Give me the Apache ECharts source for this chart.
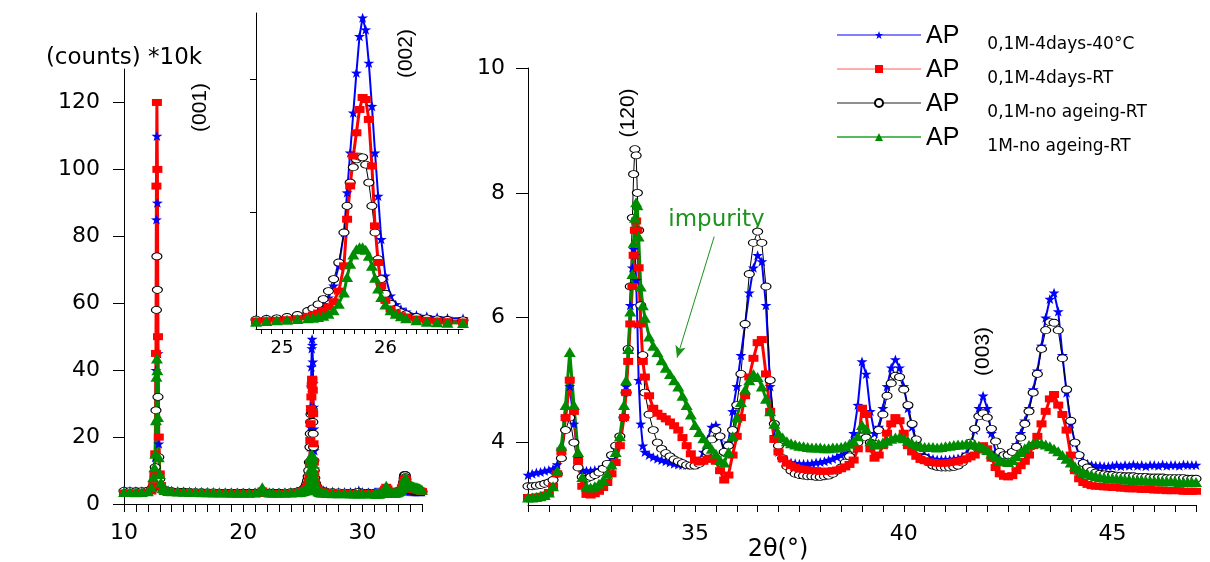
<!DOCTYPE html>
<html><head><meta charset="utf-8">
<script src="https://cdn.jsdelivr.net/npm/echarts@6/dist/echarts.min.js"></script>
<style>html,body{margin:0;padding:0;background:#fff}#c{width:1210px;height:562px}</style>
</head><body><div id="c"></div>
<script>
// ---------- legend / series names ----------
const legendSubs = ['0,1M-4days-40°C', '0,1M-4days-RT', '0,1M-no ageing-RT', '1M-no ageing-RT'];
const seriesNames = legendSubs.map(s => 'AP ' + s);

// ---------- tick values ----------
const leftXTicks = [10,11,12,13,14,15,16,17,18,19,20,21,22,23,24,25,26,27,28,29,30,31,32,33,34,35];
const leftXLabels = [10,20,30];
const leftYTicks = [0,20,40,60,80,100,120];
const insetXTicks = [24.8,24.9,25,25.1,25.2,25.3,25.4,25.5,25.6,25.7,25.8,25.9,26,26.1,26.2,26.3,26.4,26.5,26.6,26.7];
const insetXLabels = [25,26];
const insetYTicks = [20,40];
const rightXTicks = [31,31.5,32,32.5,33,33.5,34,34.5,35,35.5,36,36.5,37,37.5,38,38.5,39,39.5,40,40.5,41,41.5,42,42.5,43,43.5,44,44.5,45,45.5,46,46.5,47];
const rightXLabels = [35,40,45];
const rightYTicks = [4,6,8,10];

// ---------- 2theta values, 10-31 deg ----------
const leftX = [
 10,10.5,11,11.5,12,12.3,
 12.45,12.55,12.62,12.68,12.72,12.76,12.8,12.85,12.92,13.0,13.1,13.25,13.4,
 13.7,14,14.5,15,15.5,16,16.5,17,17.5,18,18.5,19,19.5,20,20.5,21,
 21.4,21.6,21.8,22.2,22.5,23,23.5,24,24.5,
 24.75,24.85,24.95,25.05,25.15,25.25,
 25.3,25.35,25.4,25.45,25.5,25.55,25.6,
 25.63,25.66,25.69,25.72,25.75,25.78,25.81,25.84,25.87,25.9,25.93,25.96,
 26.0,26.05,26.1,26.15,26.2,26.3,26.4,26.5,26.6,26.75,
 27,27.5,28,28.5,29,29.4,29.7,30,30.5
];
const blueLeft = [
 4.0,3.95,3.9,3.9,4.0,4.3,
 5.5,8,14,40,85,110,90,45,18,9,6,4.8,4.3,
 4.1,4.0,3.9,3.8,3.75,3.7,3.65,3.6,3.55,3.5,3.5,3.48,3.46,3.45,3.44,3.44,
 3.5,3.9,3.5,3.44,3.43,3.45,3.5,3.55,3.7,
 3.95,4.0,4.05,4.15,4.3,4.6,
 5.0,5.5,6.2,7.2,9.0,12,17,
 23,29,35,41,46.5,49.3,47.5,42.5,36,29,22.5,16,
 10.5,7.5,6.2,5.5,5.1,4.6,4.4,4.25,4.15,4.1,
 3.9,3.7,3.6,3.55,3.55,3.6,4.1,3.6,3.5
];
const redLeft = [
 3.3,3.3,3.3,3.35,3.5,3.9,
 5.5,8.5,15,45,95,120,100,50,20,9,5.5,4.2,3.8,
 3.6,3.5,3.4,3.35,3.3,3.25,3.22,3.2,3.18,3.15,3.15,3.12,3.12,3.1,3.1,3.1,
 3.2,3.9,3.3,3.1,3.1,3.12,3.15,3.2,3.4,
 3.7,3.75,3.8,3.9,4.05,4.4,
 4.6,4.9,5.3,5.8,6.6,8.2,12,
 19,24,28.5,32,35.5,37.3,37,34,27,18,12.5,9.0,
 6.8,5.5,4.9,4.5,4.3,4.0,3.8,3.7,3.6,3.55,
 3.4,3.3,3.2,3.15,3.12,3.1,3.15,3.1,3.1
];
const blackLeft = [
 3.9,3.85,3.8,3.85,3.95,4.3,
 5.2,7,11,28,58,74,64,32,14,7.5,5.2,4.4,4.0,
 3.85,3.8,3.7,3.65,3.6,3.55,3.5,3.48,3.45,3.42,3.4,3.4,3.38,3.37,3.36,3.35,
 3.4,3.7,3.4,3.35,3.35,3.37,3.42,3.5,3.7,
 3.9,4.0,4.1,4.3,4.6,5.2,
 5.6,6.2,7.0,8.2,10,12.5,17,
 21,24.5,26.8,28,28.4,28.3,27.2,24.5,21,17,13,10,
 7.8,6.3,5.5,5.0,4.7,4.3,4.1,3.95,3.85,3.8,
 3.6,3.5,3.45,3.4,3.38,3.38,3.6,3.38,3.35
];
const greenLeft = [
 3.6,3.55,3.5,3.55,3.8,5.0,
 8,11,15,25,38,43.5,40,26,14,9,6.5,4.8,4.2,
 3.9,3.8,3.7,3.65,3.6,3.55,3.5,3.48,3.45,3.42,3.4,3.38,3.36,3.35,3.35,3.4,
 3.8,5.0,3.8,3.4,3.35,3.35,3.38,3.45,3.5,
 3.6,3.7,3.8,3.9,4.0,4.1,
 4.2,4.3,4.5,4.8,5.3,6.3,8.0,
 10.3,12.3,13.7,14.5,14.8,14.8,14.4,13.5,12.0,10.2,8.6,7.3,
 6.2,5.3,4.8,4.4,4.1,3.8,3.6,3.5,3.45,3.4,
 3.3,3.25,3.2,3.18,3.15,3.13,3.15,3.12,3.12
];

// ---------- 2theta values, 31-47 deg ----------
const rightX = [
 31,31.1,31.2,31.3,31.4,31.5,31.6,31.7,31.8,31.9,
 32,32.1,32.2,32.3,32.4,32.5,32.6,32.7,32.8,32.9,
 33,33.1,33.2,33.3,33.35,33.4,33.45,33.5,33.53,33.56,33.59,33.62,33.65,33.7,33.75,33.8,33.9,
 34,34.1,34.2,34.3,34.4,34.5,34.6,34.7,34.8,34.9,
 35,35.1,35.2,35.3,35.4,35.5,35.6,35.7,35.8,35.9,
 36,36.1,36.2,36.3,36.4,36.5,36.6,36.7,36.8,36.9,
 37,37.1,37.2,37.3,37.4,37.5,37.6,37.7,37.8,37.9,
 38,38.1,38.2,38.3,38.4,38.5,38.6,38.7,38.8,38.9,
 39,39.1,39.2,39.3,39.4,39.5,39.6,39.7,39.8,39.9,
 40,40.1,40.2,40.3,40.4,40.5,40.6,40.7,40.8,40.9,
 41,41.1,41.2,41.3,41.4,41.5,41.6,41.7,41.8,41.9,
 42,42.1,42.2,42.3,42.4,42.5,42.6,42.7,42.8,42.9,
 43,43.1,43.2,43.3,43.4,43.5,43.6,43.7,43.8,43.9,
 44,44.1,44.2,44.3,44.4,44.5,44.6,44.7,44.8,44.9,
 45,45.1,45.2,45.3,45.4,45.5,45.6,45.7,45.8,45.9,
 46,46.1,46.2,46.3,46.4,46.5,46.6,46.7,46.8,46.9,
 47
];
const blueRight = [
 3.48,3.5,3.52,3.53,3.55,3.56,3.58,3.65,3.9,4.4,
 4.9,4.3,3.75,3.56,3.55,3.55,3.56,3.57,3.6,3.65,
 3.75,3.9,4.1,4.4,4.9,5.5,6.2,6.8,7.1,7.0,6.6,5.9,5.0,4.3,3.95,3.85,3.8,
 3.77,3.74,3.72,3.7,3.68,3.66,3.65,3.64,3.64,3.64,
 3.65,3.7,3.85,4.05,4.25,4.28,4.1,3.85,4.0,4.5,
 4.9,5.4,5.9,6.4,6.8,7.0,6.9,6.2,4.9,4.1,
 3.85,3.75,3.7,3.68,3.67,3.66,3.66,3.66,3.67,3.68,
 3.69,3.7,3.72,3.74,3.77,3.8,3.85,3.95,4.15,4.6,
 5.3,5.1,4.5,4.15,4.25,4.55,4.9,5.2,5.33,5.2,
 4.9,4.55,4.25,4.0,3.88,3.8,3.76,3.74,3.73,3.73,
 3.73,3.73,3.74,3.75,3.77,3.82,3.95,4.2,4.55,4.75,
 4.55,4.15,3.85,3.78,3.8,3.82,3.87,3.97,4.15,4.35,
 4.55,4.85,5.15,5.55,6.0,6.3,6.4,6.1,5.4,4.8,
 4.3,4.0,3.8,3.7,3.66,3.64,3.63,3.63,3.62,3.62,
 3.63,3.64,3.62,3.64,3.63,3.65,3.63,3.64,3.62,3.64,
 3.64,3.63,3.65,3.63,3.64,3.64,3.63,3.65,3.64,3.64,
 3.64
];
const redRight = [
 3.12,3.12,3.13,3.14,3.16,3.2,3.3,3.5,3.85,4.4,
 5.0,4.5,3.7,3.3,3.17,3.16,3.18,3.22,3.28,3.36,
 3.5,3.68,3.95,4.4,4.8,5.3,5.9,6.5,7.0,7.4,7.55,7.4,6.8,5.9,5.3,5.05,4.75,
 4.55,4.47,4.42,4.38,4.33,4.27,4.2,4.08,3.95,3.82,
 3.72,3.69,3.7,3.73,3.75,3.7,3.55,3.4,3.48,3.8,
 4.1,4.4,4.75,5.05,5.35,5.6,5.65,5.1,4.5,4.05,
 3.85,3.74,3.67,3.63,3.6,3.58,3.57,3.56,3.55,3.55,
 3.54,3.54,3.54,3.55,3.56,3.58,3.61,3.65,3.72,3.9,
 4.55,4.45,3.9,3.75,3.8,3.95,4.15,4.3,4.4,4.35,
 4.15,3.95,3.85,3.78,3.73,3.71,3.69,3.68,3.67,3.67,
 3.67,3.68,3.69,3.7,3.72,3.74,3.77,3.8,3.88,3.95,
 3.9,3.75,3.6,3.5,3.46,3.45,3.47,3.55,3.63,3.7,
 3.8,3.95,4.1,4.3,4.5,4.7,4.77,4.6,4.45,4.2,
 3.8,3.55,3.42,3.36,3.33,3.31,3.3,3.3,3.29,3.29,
 3.28,3.28,3.27,3.27,3.26,3.26,3.26,3.25,3.25,3.25,
 3.24,3.24,3.24,3.23,3.23,3.23,3.23,3.22,3.22,3.22,
 3.22
];
const blackRight = [
 3.3,3.3,3.31,3.32,3.34,3.36,3.4,3.5,3.75,4.2,
 4.4,4.0,3.6,3.45,3.42,3.45,3.48,3.52,3.58,3.66,
 3.8,3.95,4.1,4.4,4.8,5.5,6.5,7.6,8.3,8.7,8.6,8.0,7.4,6.2,5.4,4.8,4.45,
 4.2,4.0,3.9,3.83,3.78,3.73,3.7,3.67,3.64,3.63,
 3.63,3.66,3.72,3.85,4.05,4.2,4.1,3.85,3.95,4.2,
 4.6,5.1,5.9,6.7,7.2,7.38,7.2,6.5,5.0,4.3,
 3.95,3.75,3.62,3.55,3.5,3.48,3.47,3.46,3.46,3.45,
 3.45,3.46,3.47,3.5,3.55,3.6,3.68,3.78,3.9,4.0,
 4.1,4.08,4.0,3.98,4.2,4.45,4.75,4.95,5.07,5.05,
 4.85,4.6,4.3,4.05,3.88,3.75,3.68,3.63,3.61,3.6,
 3.6,3.6,3.61,3.63,3.68,3.78,4.0,4.22,4.42,4.47,
 4.4,4.22,4.02,3.85,3.8,3.8,3.85,3.93,4.08,4.3,
 4.5,4.8,5.1,5.5,5.8,5.93,5.92,5.8,5.35,4.85,
 4.35,4.0,3.8,3.67,3.6,3.55,3.52,3.5,3.49,3.48,
 3.48,3.47,3.47,3.46,3.46,3.46,3.45,3.45,3.45,3.44,
 3.44,3.44,3.44,3.43,3.43,3.43,3.43,3.43,3.42,3.42,
 3.42
];
const greenRight = [
 3.12,3.12,3.13,3.14,3.16,3.2,3.3,3.55,3.95,4.6,
 5.45,4.6,3.85,3.45,3.3,3.28,3.3,3.34,3.4,3.5,
 3.65,3.85,4.1,4.6,5.0,5.5,6.1,6.7,7.2,7.6,7.85,7.8,7.3,6.5,6.2,6.0,5.7,
 5.55,5.45,5.32,5.2,5.1,5.0,4.9,4.75,4.6,4.45,
 4.28,4.17,4.07,3.98,3.9,3.82,3.72,3.68,3.85,4.1,
 4.4,4.65,4.85,5.0,5.1,5.05,4.9,4.7,4.5,4.3,
 4.15,4.08,4.02,3.99,3.97,3.95,3.94,3.93,3.92,3.92,
 3.92,3.91,3.91,3.92,3.92,3.93,3.95,3.98,4.02,4.1,
 4.28,4.22,4.02,3.97,3.98,4.0,4.03,4.06,4.08,4.09,
 4.07,4.03,3.99,3.96,3.94,3.93,3.93,3.93,3.92,3.93,
 3.94,3.95,3.96,3.97,3.97,3.98,3.98,3.97,3.95,3.92,
 3.88,3.82,3.77,3.72,3.7,3.69,3.72,3.78,3.85,3.91,
 3.96,3.99,4.0,3.99,3.97,3.94,3.9,3.86,3.8,3.74,
 3.68,3.62,3.57,3.53,3.5,3.48,3.46,3.45,3.44,3.43,
 3.43,3.42,3.42,3.41,3.41,3.4,3.4,3.4,3.39,3.39,
 3.39,3.39,3.38,3.38,3.38,3.38,3.37,3.37,3.37,3.37,
 3.37
];

// ---------- build ----------
const zip = (xs, ys) => xs.map((x, i) => [x, ys[i]]);
const curves = [
  zip(leftX, blueLeft).concat(zip(rightX, blueRight)),
  zip(leftX, redLeft).concat(zip(rightX, redRight)),
  zip(leftX, blackLeft).concat(zip(rightX, blackRight)),
  zip(leftX, greenLeft).concat(zip(rightX, greenRight))
];
const STAR = 'path://M0,-10L2.35,-3.24L9.51,-3.09L3.8,1.24L5.88,8.09L0,4L-5.88,8.09L-3.8,1.24L-9.51,-3.09L-2.35,-3.24Z';
const GREEN = '#008c00';
const styles = [
  {symbol: STAR, size: [11, 10], item: {color: '#0000ff'}, line: {color: '#0000ff', width: 2}},
  {symbol: 'rect', size: [10, 7], item: {color: '#ff0000'}, line: {color: '#ff0000', width: 3}},
  {symbol: 'circle', size: [10, 7], item: {color: '#ffffff', borderColor: '#000000', borderWidth: 1}, line: {color: '#000000', width: 1}},
  {symbol: 'triangle', size: [12, 10], item: {color: GREEN}, line: {color: GREEN, width: 3}}
];
const drawOrder = [0, 2, 1, 3];
const series = [];
[0, 1, 2].forEach(g => drawOrder.forEach(k => {
  const s = {
    name: seriesNames[k], type: 'line', xAxisIndex: g, yAxisIndex: g, data: curves[k],
    symbol: styles[k].symbol, symbolSize: styles[k].size, showSymbol: true, showAllSymbol: true,
    itemStyle: styles[k].item, lineStyle: styles[k].line, clip: true, silent: true,
    animation: false, emphasis: {disabled: true}
  };
  if (g === 2 && k === 3) {
    s.markLine = {
      silent: true, animation: false, symbol: ['none', 'arrow'], symbolSize: [8, 12],
      lineStyle: {color: '#1a941a', width: 1, type: 'solid'}, label: {show: false},
      data: [[{coord: [35.46, 7.30]}, {coord: [34.57, 5.36]}]]
    };
  }
  series.push(s);
}));

const FONT = 'DejaVu Sans';
const lbl = (extra) => Object.assign({color: '#000', fontFamily: FONT, fontSize: 22}, extra);
const axLine = {show: true, onZero: false, lineStyle: {color: '#000', width: 1}};
const tick = (len, vals) => ({show: true, length: len, customValues: vals, lineStyle: {color: '#000', width: 1}});

const option = {
  backgroundColor: '#ffffff',
  animation: false,
  grid: [
    {left: 124, top: 69, width: 298, height: 435, outerBoundsMode: 'none', containLabel: false},
    {left: 256, top: 13, width: 207, height: 316, outerBoundsMode: 'none', containLabel: false},
    {left: 528, top: 68, width: 668, height: 437, outerBoundsMode: 'none', containLabel: false}
  ],
  xAxis: [
    {gridIndex: 0, type: 'value', min: 10, max: 35, axisLine: axLine, axisTick: tick(8, leftXTicks),
     axisLabel: lbl({customValues: leftXLabels, margin: 18}), splitLine: {show: false}},
    {gridIndex: 1, type: 'value', min: 24.75, max: 26.75, axisLine: axLine, axisTick: tick(5, insetXTicks),
     axisLabel: lbl({customValues: insetXLabels, margin: 10, fontSize: 18}), splitLine: {show: false}},
    {gridIndex: 2, type: 'value', min: 31, max: 47, axisLine: axLine, axisTick: tick(7, rightXTicks),
     axisLabel: lbl({customValues: rightXLabels, margin: 18}), splitLine: {show: false},
     name: '2θ(°)', nameLocation: 'middle', nameGap: 33, nameMoveOverlap: false,
     nameTextStyle: {color: '#000', fontFamily: FONT, fontSize: 24, padding: [0, 168, 0, 0]}}
  ],
  yAxis: [
    {gridIndex: 0, type: 'value', min: 0, max: 130, axisLine: axLine, axisTick: tick(11, leftYTicks),
     axisLabel: lbl({customValues: leftYTicks, margin: 24}), splitLine: {show: false},
     name: '(counts) *10k', nameLocation: 'end', nameGap: -1, nameMoveOverlap: false,
     nameTextStyle: {color: '#000', fontFamily: FONT, fontSize: 23, align: 'center', verticalAlign: 'bottom'}},
    {gridIndex: 1, type: 'value', min: 2.5, max: 50, axisLine: axLine, axisTick: tick(6, insetYTicks),
     axisLabel: {show: false}, splitLine: {show: false}},
    {gridIndex: 2, type: 'value', min: 3, max: 10, axisLine: axLine, axisTick: tick(12, rightYTicks),
     axisLabel: lbl({customValues: rightYTicks, margin: 23}), splitLine: {show: false}}
  ],
  legend: {
    orient: 'vertical', left: 831, top: 17, itemWidth: 84, itemHeight: 10, itemGap: 3,
    selectedMode: false,
    data: [
      {name: seriesNames[0], lineStyle: {color: '#0000ff', width: 1}},
      {name: seriesNames[1], lineStyle: {color: '#ff5a5a', width: 1}},
      {name: seriesNames[2], lineStyle: {color: '#6a6a6a', width: 1.5}},
      {name: seriesNames[3], lineStyle: {color: '#5cb85c', width: 2}}
    ],
    formatter: name => '{a|AP}{b|' + name.slice(3) + '}',
    textStyle: {
      color: '#000',
      rich: {
        a: {fontFamily: 'Liberation Sans', fontSize: 25, lineHeight: 26, padding: [2, 28, 0, 0], verticalAlign: 'top', color: '#000'},
        b: {fontFamily: FONT, fontSize: 17, lineHeight: 18, padding: [14, 0, 0, 0], verticalAlign: 'top', color: '#000'}
      }
    }
  },
  series: series
};

const chart = echarts.init(document.getElementById('c'));
chart.setOption(option);

// annotations anchored in data coordinates
const notes = [
  {grid: 0, at: [16.39, 118.5], text: '(001)'},
  {grid: 1, at: [26.2, 43.9], text: '(002)'},
  {grid: 2, at: [33.4, 9.28], text: '(120)'},
  {grid: 2, at: [41.91, 5.46], text: '(003)'}
];
const graphic = notes.map(n => {
  const p = chart.convertToPixel({gridIndex: n.grid}, n.at);
  return {type: 'text', x: p[0], y: p[1], rotation: Math.PI / 2, silent: true,
    style: {text: n.text, font: '21px "Liberation Sans"', fill: '#000', align: 'center', verticalAlign: 'middle'}};
});
const ip = chart.convertToPixel({gridIndex: 2}, [34.36, 7.57]);
graphic.push({type: 'text', x: ip[0], y: ip[1], silent: true,
  style: {text: 'impurity', font: '23px "DejaVu Sans"', fill: '#1a941a', align: 'left', verticalAlign: 'middle'}});
chart.setOption({graphic: graphic});
</script>
</body></html>
